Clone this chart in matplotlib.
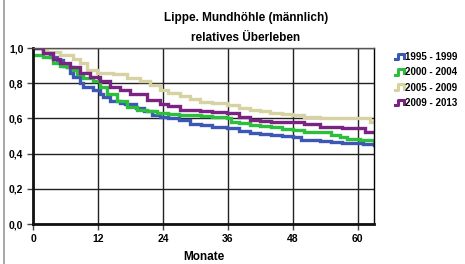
import matplotlib
matplotlib.use("Agg")
import matplotlib.pyplot as plt
from matplotlib.lines import Line2D
from matplotlib.legend_handler import HandlerBase

plt.rcParams['font.family'] = ['Liberation Sans', 'DejaVu Sans']

title_lines = ["Lippe. Mundhöhle (männlich)", "relatives Überleben"]
x_label = "Monate"
x_ticks = [0, 12, 24, 36, 48, 60]
y_ticks = [0.0, 0.2, 0.4, 0.6, 0.8, 1.0]
y_tick_labels = ["0,0", "0,2", "0,4", "0,6", "0,8", "1,0"]

series_names = ["1995 - 1999", "2000 - 2004", "2005 - 2009", "2009 - 2013"]
series_colors = ["#3D58B4", "#2EBE3E", "#D7D2A2", "#7A2383"]

months_1995 = [0, 1.8, 3.1, 4.4, 5.5, 6.3, 6.8, 7.4, 8.7, 9.2, 11.1, 12.4, 13.0, 14.2, 16, 17, 19, 20.5, 22, 23.5,
               25, 27, 29, 31, 33, 35.8, 38, 40, 42, 44, 46, 48, 49.5, 51, 53, 55, 57, 59, 61, 63]
surv_1995 = [1.0, 0.97, 0.95, 0.93, 0.90, 0.89, 0.86, 0.835, 0.80, 0.78, 0.76, 0.74, 0.72, 0.70, 0.69, 0.68, 0.66, 0.64, 0.62, 0.61,
             0.60, 0.59, 0.57, 0.56, 0.55, 0.545, 0.53, 0.515, 0.51, 0.505, 0.50, 0.495, 0.48, 0.475, 0.47, 0.465, 0.462, 0.46, 0.455, 0.45]

months_2000 = [0, 1.8, 3.7, 5.0, 6.3, 7.4, 8.1, 9.2, 11.1, 12.4, 13.7, 15.5, 17.4, 19.2, 21, 23, 25, 27, 29, 31,
               33, 35.8, 36.5, 38, 40, 42, 44, 46, 48, 50, 53, 55, 56.7, 58, 60.4, 62, 63]
surv_2000 = [0.96, 0.95, 0.915, 0.90, 0.89, 0.875, 0.85, 0.83, 0.81, 0.78, 0.74, 0.70, 0.665, 0.65, 0.64, 0.63, 0.625, 0.62, 0.62, 0.615,
             0.61, 0.60, 0.58, 0.575, 0.56, 0.555, 0.55, 0.54, 0.535, 0.525, 0.52, 0.505, 0.495, 0.485, 0.48, 0.475, 0.47]

months_2005 = [0, 2.6, 5.0, 7.4, 8.7, 10.0, 11.8, 14.8, 17.4, 19.8, 21.6, 23.4, 25, 27.1, 29, 30.8, 33, 35.8, 38, 40,
               42, 43.8, 46, 47.8, 50, 53, 55, 57, 59.4, 61.5, 62.2, 63]
surv_2005 = [1.0, 0.98, 0.96, 0.94, 0.915, 0.875, 0.86, 0.85, 0.83, 0.81, 0.79, 0.76, 0.745, 0.73, 0.71, 0.695, 0.685, 0.675, 0.66, 0.645,
             0.64, 0.63, 0.625, 0.62, 0.61, 0.605, 0.605, 0.60, 0.60, 0.60, 0.58, 0.58]

months_2009 = [0, 1.8, 3.7, 5.0, 6.8, 8.7, 10.5, 12.4, 14.2, 16.1, 17.9, 21, 23.4, 25, 27.1, 29, 30.8, 33, 35.8, 38,
               40, 42, 44, 46, 47.8, 50, 53, 55, 57, 59.4, 61.3, 63]
surv_2009 = [1.0, 0.97, 0.94, 0.915, 0.89, 0.86, 0.835, 0.81, 0.78, 0.76, 0.74, 0.705, 0.68, 0.67, 0.65, 0.645, 0.64, 0.635, 0.63, 0.61,
             0.59, 0.585, 0.58, 0.58, 0.58, 0.57, 0.55, 0.55, 0.545, 0.545, 0.525, 0.52]

all_months = [months_1995, months_2000, months_2005, months_2009]
all_surv = [surv_1995, surv_2000, surv_2005, surv_2009]

fig = plt.figure(figsize=(4.65, 2.64), dpi=100)
ax = fig.add_axes([33/465, 1-224/264, (374-33)/465, (224-48)/264])

for m, s, c, n in zip(all_months, all_surv, series_colors, series_names):
    ax.plot(m, s, drawstyle='steps-post', color=c, lw=2.4, label=n, solid_joinstyle='miter')

ax.set_xlim(0, 63)
ax.set_ylim(0, 1.0)
ax.set_xticks(x_ticks)
ax.set_yticks(y_ticks)
ax.set_yticklabels(y_tick_labels)
ax.grid(True, color='#222222', lw=1.0)
ax.set_axisbelow(True)
for sp in ['left', 'bottom']:
    ax.spines[sp].set_linewidth(2.0)
    ax.spines[sp].set_color('#111111')
ax.spines['right'].set_linewidth(1.0)
ax.spines['top'].set_linewidth(1.0)
ax.spines['top'].set_color('#555555')
ax.tick_params(axis='both', length=4, width=1, color='#444444', labelsize=7.5, pad=3)
for lab in ax.get_xticklabels() + ax.get_yticklabels():
    lab.set_fontweight('bold')

ax.set_xlabel(x_label, fontsize=8.5, fontweight='bold', labelpad=5)

fig.text(246/465, 1-18/264, title_lines[0], ha='center', va='center', fontsize=8.5, fontweight='bold')
fig.text(246/465, 1-38/264, title_lines[1], ha='center', va='center', fontsize=8.5, fontweight='bold')


class StepHandler(HandlerBase):
    def create_artists(self, legend, orig_handle, xdescent, ydescent, width, height, fontsize, trans):
        x0 = -xdescent
        y0 = -ydescent
        xs = [x0, x0 + 0.35*width, x0 + 0.35*width, x0 + 0.9*width, x0 + 0.9*width]
        ys = [y0 + 0.1*height, y0 + 0.1*height, y0 + 0.9*height, y0 + 0.9*height, y0 + 0.3*height]
        ln = Line2D(xs, ys, color=orig_handle.get_color(), lw=2.2, transform=trans)
        return [ln]


handles = [Line2D([], [], color=c) for c in series_colors]
leg = fig.legend(handles, series_names, loc='upper left', bbox_to_anchor=(390/465, 1-47/264),
                 frameon=False, fontsize=7, handlelength=1.0, handletextpad=0.05,
                 labelspacing=0.55, borderpad=0, handler_map={Line2D: StepHandler()})
for t in leg.get_texts():
    t.set_fontweight('bold')

fig.add_artist(Line2D([3.5/465, 3.5/465], [0, 1], color='#999999', lw=1.2, transform=fig.transFigure))

fig.savefig("out.png", dpi=100)
